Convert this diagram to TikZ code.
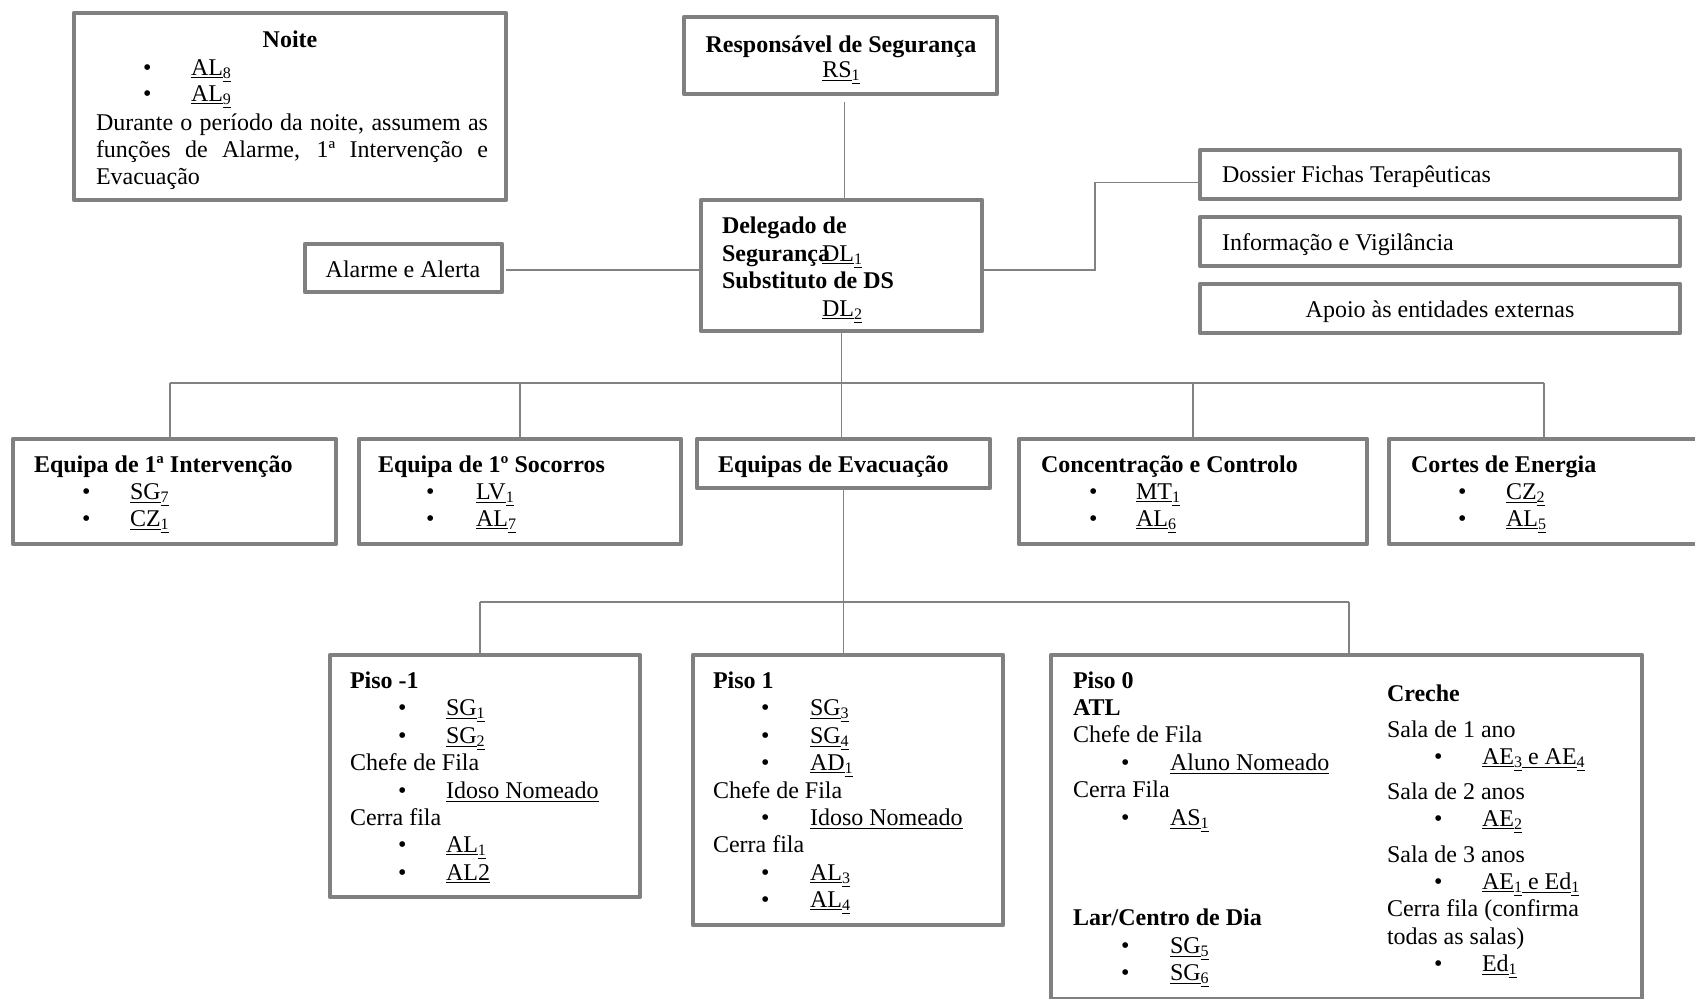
\documentclass[tikz,border=0pt]{standalone}
\usepackage{fontspec}
\setmainfont{Liberation Serif}
\definecolor{boxgray}{RGB}{128,128,128}
\definecolor{linegray}{RGB}{130,130,130}
\tikzset{
  box/.style={draw=boxgray, line width=2.2pt, rectangle, inner sep=0pt, outer sep=0pt, fill=white, line join=round},
  conn/.style={draw=linegray, line width=0.8pt},
  txt/.style={anchor=base west, inner sep=0pt, outer sep=0pt, font=\fontsize{12}{14}\selectfont},
  txtb/.style={txt, font=\fontsize{12}{14}\selectfont\bfseries},
}
\newcommand\BX[5]{\node[box, minimum width={(#4-#2)*0.5pt}, minimum height={(#5-#3)*0.5pt}] (#1) at ({(#2+#4)/2},{(#3+#5)/2}) {};}
\newcommand\TX[4]{\node[txt] (#1) at (#2,#3) {#4};}
\newcommand\TB[4]{\node[txtb] (#1) at (#2,#3) {#4};}
\newcommand\BU[5]{\node[txt] (#1b) at (#2,#4) {•}; \node[txt] (#1) at (#3,#4) {#5};}
\newcommand\ul[1]{\underline{#1}}
\newcommand\sbs[1]{\raisebox{-1.6pt}{\underline{\fontsize{8}{9}\selectfont #1}}}
\begin{document}
\begin{tikzpicture}[x=0.5pt, y=-0.5pt]
\fill[white] (0,0) rectangle (1695,998);
\useasboundingbox (0,0) rectangle (1695,998);

% boxes
\BX{noite}{74}{13}{506}{200}
\BX{rs}{684}{17}{997}{94}
\BX{dl}{701}{200}{982}{331}
\BX{al}{305}{244}{502}{292}
\BX{dos}{1200}{150}{1680}{199}
\BX{inf}{1200}{217}{1680}{266}
\BX{ap}{1200}{284}{1680}{333}
\BX{e1}{13}{439}{336}{544}
\BX{e2}{359}{439}{681}{544}
\BX{ev}{697}{439}{990}{488}
\BX{e4}{1019}{439}{1367}{544}
\BX{e5}{1389}{439}{1712}{544}
\BX{pm1}{330}{655}{640}{897}
\BX{p1}{693}{655}{1003}{925}
\BX{p0}{1051}{655}{1642}{999.5}

% connectors
\draw[conn] ([xshift=2pt,yshift=-4pt]rs.south) -- ([xshift=2pt]rs.south |- dl.north);
\draw[conn] ([xshift=2pt,yshift=-1pt]al.east) -- ([yshift=-1pt]al.east -| dl.west);
\coordinate (dk) at (1095,270);
\draw[conn] (dl.east |- dk) -- (dk) |- ([yshift=-4pt]dos.west);
\coordinate (busL) at (170,383);
\coordinate (busR) at (1544,383);
\draw[conn] (busL) -- (busR);
\draw[conn] (dl.south) -- (dl.south |- ev.north);
\draw[conn] (busL) -- (busL |- e1.north);
\draw[conn] (e2.north |- busL) -- (e2.north);
\draw[conn] (e4.north |- busL) -- (e4.north);
\draw[conn] (busR) -- (busR |- e5.north);
\coordinate (b2L) at (480,602);
\coordinate (b2R) at (1349,602);
\draw[conn] (b2L) -- (b2R);
\draw[conn] (ev.south) -- (ev.south |- p1.north);
\draw[conn] (b2L) -- (b2L |- pm1.north);
\draw[conn] (b2R) -- (b2R |- p0.north);

% Noite
\node[txtb, anchor=base] (noiteT) at (290,47) {Noite};
\BU{al8}{143}{191}{75}{\ul{AL}\sbs{8}}
\BU{al9}{143}{191}{101}{\ul{AL}\sbs{9}}
\TX{np1}{96}{130}{\makebox[196pt][s]{Durante o período da noite, assumem as}}
\TX{np2}{96}{157}{\makebox[196pt][s]{funções de Alarme, 1ª Intervenção e}}
\TX{np3}{96}{184}{Evacuação}

% RS
\node[txtb, anchor=base] (rsT) at (841,52) {Responsável de Segurança};
\node[txt, anchor=base] (rs1) at (841,77) {\ul{RS}\sbs{1}};

% DL
\TB{dlT1}{722}{233}{Delegado de}
\TB{dlT2}{722}{261}{Segurança}
\TX{dl1}{822}{261}{\ul{DL}\sbs{1}}
\TB{dlT3}{722}{288}{Substituto de DS}
\TX{dl2}{822}{316}{\ul{DL}\sbs{2}}

% side boxes
\node[txt, anchor=base] (alT) at (403,277) {Alarme e Alerta};
\TX{dosT}{1222}{182}{Dossier Fichas Terapêuticas}
\TX{infT}{1222}{250}{Informação e Vigilância}
\node[txt, anchor=base] (apT) at (1440,317) {Apoio às entidades externas};

% row 2
\TB{e1T}{34}{472}{Equipa de 1ª Intervenção}
\BU{sg7}{82}{130}{499}{\ul{SG}\sbs{7}}
\BU{cz1}{82}{130}{526}{\ul{CZ}\sbs{1}}
\TB{e2T}{378}{472}{Equipa de 1º Socorros}
\BU{lv1}{426}{476}{499}{\ul{LV}\sbs{1}}
\BU{al7}{426}{476}{526}{\ul{AL}\sbs{7}}
\TB{e3T}{718}{472}{Equipas de Evacuação}
\TB{e4T}{1041}{472}{Concentração e Controlo}
\BU{mt1}{1089}{1136}{499}{\ul{MT}\sbs{1}}
\BU{al6}{1089}{1136}{526}{\ul{AL}\sbs{6}}
\TB{e5T}{1411}{472}{Cortes de Energia}
\BU{cz2}{1458}{1506}{499}{\ul{CZ}\sbs{2}}
\BU{al5}{1458}{1506}{526}{\ul{AL}\sbs{5}}

% Piso -1
\TB{pm1T}{350}{688}{Piso -1}
\BU{sg1}{398}{446}{715}{\ul{SG}\sbs{1}}
\BU{sg2}{398}{446}{743}{\ul{SG}\sbs{2}}
\TX{cfa}{350}{770}{Chefe de Fila}
\BU{ida}{398}{446}{798}{\ul{Idoso Nomeado}}
\TX{crfa}{350}{825}{Cerra fila}
\BU{al1}{398}{446}{852}{\ul{AL}\sbs{1}}
\BU{al2}{398}{446}{880}{\ul{AL2}}

% Piso 1
\TB{p1T}{713}{688}{Piso 1}
\BU{sg3}{761}{810}{715}{\ul{SG}\sbs{3}}
\BU{sg4}{761}{810}{743}{\ul{SG}\sbs{4}}
\BU{ad1}{761}{810}{770}{\ul{AD}\sbs{1}}
\TX{cfb}{713}{798}{Chefe de Fila}
\BU{idb}{761}{810}{825}{\ul{Idoso Nomeado}}
\TX{crfb}{713}{852}{Cerra fila}
\BU{al3}{761}{810}{880}{\ul{AL}\sbs{3}}
\BU{al4}{761}{810}{907}{\ul{AL}\sbs{4}}

% Piso 0 left
\TB{p0T}{1073}{688}{Piso 0}
\TB{atl}{1073}{715}{ATL}
\TX{cfc}{1073}{742}{Chefe de Fila}
\BU{aln}{1121}{1170}{770}{\ul{Aluno Nomeado}}
\TX{crfc}{1073}{797}{Cerra Fila}
\BU{as1}{1121}{1170}{825}{\ul{AS}\sbs{1}}
\TB{lar}{1073}{925}{Lar/Centro de Dia}
\BU{sg5}{1121}{1170}{953}{\ul{SG}\sbs{5}}
\BU{sg6}{1121}{1170}{980}{\ul{SG}\sbs{6}}

% Piso 0 right
\TB{cre}{1387}{701}{Creche}
\TX{s1}{1387}{737}{Sala de 1 ano}
\BU{ae34}{1434}{1482}{764}{\ul{AE}\sbs{3}\ul{ e AE}\sbs{4}}
\TX{s2}{1387}{799}{Sala de 2 anos}
\BU{ae2}{1434}{1482}{826}{\ul{AE}\sbs{2}}
\TX{s3}{1387}{862}{Sala de 3 anos}
\BU{ae1}{1434}{1482}{889}{\ul{AE}\sbs{1}\ul{ e Ed}\sbs{1}}
\TX{crfd}{1387}{916}{Cerra fila (confirma}
\TX{tds}{1387}{944}{todas as salas)}
\BU{ed1}{1434}{1482}{971}{\ul{Ed}\sbs{1}}
\end{tikzpicture}
\end{document}
